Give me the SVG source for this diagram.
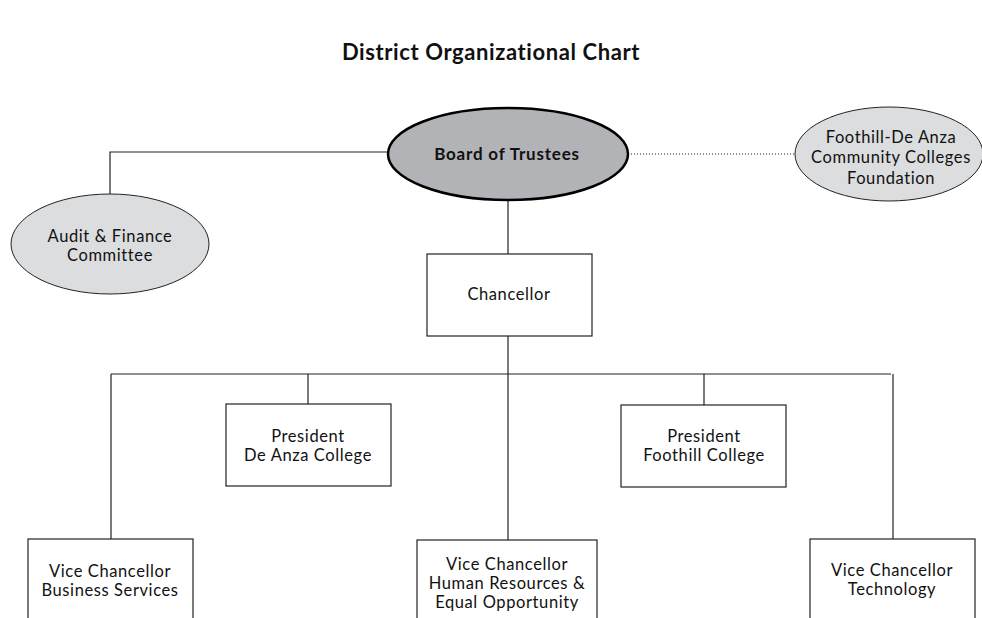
<svg xmlns="http://www.w3.org/2000/svg" width="982" height="618" viewBox="0 0 982 618">
<style>
  text { font-family: Lato, "Noto Sans", "Liberation Sans", sans-serif; fill: #111; text-anchor: middle; font-size: 16.5px; letter-spacing: 0.6px; }
  .title { font-size: 22px; font-weight: bold; letter-spacing: 0.6px; }
  .bold { font-weight: bold; font-size: 17px; letter-spacing: 0.8px; }
  .box { fill: #fff; stroke: #222; stroke-width: 1.2; }
  .oval { fill: #dcdddf; stroke: #222; stroke-width: 1; }
  .board { fill: #b1b3b6; stroke: #000; stroke-width: 2.5; }
  .line { fill: none; stroke: #222; stroke-width: 1.2; }
  .dot { fill: none; stroke: #222; stroke-width: 1; stroke-dasharray: 1 2; }
</style>
<rect width="982" height="618" fill="#fff"/>
<text class="title" x="491" y="60">District Organizational Chart</text>
<g id="connectors">
  <path class="line" d="M388 152 H110 V194"/>
  <path class="dot" d="M628 154 H795"/>
  <path class="line" d="M508 200 V254"/>
  <path class="line" d="M508 336 V540"/>
  <path class="line" d="M111 374 H891"/>
  <path class="line" d="M111 374 V539"/>
  <path class="line" d="M893 374 V539"/>
  <path class="line" d="M308 374 V404"/>
  <path class="line" d="M704 374 V405"/>
</g>
<g id="board">
  <ellipse class="board" cx="508" cy="154" rx="120" ry="46"/>
  <text class="bold" x="507" y="160">Board of Trustees</text>
</g>
<g id="foundation">
  <ellipse class="oval" cx="889" cy="154" rx="94" ry="47"/>
  <text x="891" y="143">Foothill-De Anza</text>
  <text x="891" y="163">Community Colleges</text>
  <text x="891" y="184">Foundation</text>
</g>
<g id="audit">
  <ellipse class="oval" cx="110" cy="244" rx="99" ry="50"/>
  <text x="110" y="242">Audit &amp; Finance</text>
  <text x="110" y="261">Committee</text>
</g>
<g id="chancellor">
  <rect class="box" x="427" y="254" width="165" height="82"/>
  <text x="509" y="300">Chancellor</text>
</g>
<g id="pres-deanza">
  <rect class="box" x="226" y="404" width="165" height="82"/>
  <text x="308" y="442">President</text>
  <text x="308" y="461">De Anza College</text>
</g>
<g id="pres-foothill">
  <rect class="box" x="621" y="405" width="165" height="82"/>
  <text x="704" y="442">President</text>
  <text x="704" y="461">Foothill College</text>
</g>
<g id="vc-business">
  <rect class="box" x="28" y="539" width="165" height="90"/>
  <text x="110" y="577">Vice Chancellor</text>
  <text x="110" y="596">Business Services</text>
</g>
<g id="vc-hr">
  <rect class="box" x="417" y="540" width="180" height="90"/>
  <text x="507" y="570">Vice Chancellor</text>
  <text x="507" y="589">Human Resources &amp;</text>
  <text x="507" y="608">Equal Opportunity</text>
</g>
<g id="vc-tech">
  <rect class="box" x="810" y="539" width="165" height="90"/>
  <text x="892" y="576">Vice Chancellor</text>
  <text x="892" y="595">Technology</text>
</g>
</svg>
